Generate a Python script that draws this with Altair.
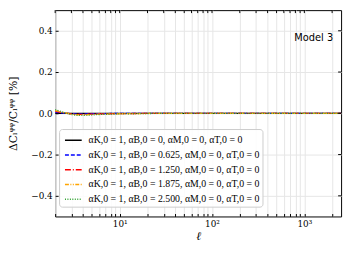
import altair as alt
import pandas as pd

ell = [2, 2.5, 3, 3.5, 4, 5, 6, 8, 10, 15, 20, 30, 50, 100, 200, 500, 1000, 2000, 2500]
dev_b0000 = [0, 0, 0, 0, 0, 0, 0, 0, 0, 0, 0, 0, 0, 0, 0, 0, 0, 0, 0]
dev_b0625 = [0.0045, 0.001, -0.0015, -0.0025, -0.0025, -0.002, -0.0015, -0.001, -0.0008, -0.0005, -0.0003, -0.0001, 0, 0, 0, 0, 0, 0, 0]
dev_b1250 = [0.009, 0.002, -0.003, -0.005, -0.005, -0.004, -0.003, -0.002, -0.0015, -0.001, -0.0005, -0.0002, 0, 0, 0, 0, 0, 0, 0]
dev_b1875 = [0.0135, 0.003, -0.0045, -0.0075, -0.0075, -0.006, -0.0045, -0.003, -0.0022, -0.0015, -0.0008, -0.0004, 0, 0, 0, 0, 0, 0, 0]
dev_b2500 = [0.018, 0.004, -0.006, -0.010, -0.010, -0.008, -0.006, -0.004, -0.003, -0.002, -0.001, -0.0005, 0, 0, 0, 0, 0, 0, 0]

labels = [
    "αK,0 = 1, αB,0 = 0, αM,0 = 0, αT,0 = 0",
    "αK,0 = 1, αB,0 = 0.625, αM,0 = 0, αT,0 = 0",
    "αK,0 = 1, αB,0 = 1.250, αM,0 = 0, αT,0 = 0",
    "αK,0 = 1, αB,0 = 1.875, αM,0 = 0, αT,0 = 0",
    "αK,0 = 1, αB,0 = 2.500, αM,0 = 0, αT,0 = 0",
]
colors = ["black", "blue", "red", "orange", "#2ca02c"]
dashes = [[1, 0], [4, 2], [6, 2, 1, 2], [4, 1.5, 1, 1.5, 1, 1.5], [1, 1.5]]
series = [dev_b0000, dev_b0625, dev_b1250, dev_b1875, dev_b2500]

xticks = [2, 3, 4, 5, 6, 7, 8, 9, 10, 20, 30, 40, 50, 60, 70, 80, 90,
          100, 200, 300, 400, 500, 600, 700, 800, 900, 1000, 2000]
yticks = [-0.4, -0.2, 0.0, 0.2, 0.4]

rows = []
for lab, ys in zip(labels, series):
    for l, v in zip(ell, ys):
        rows.append({"ell": l, "dev": v, "model": lab})
df = pd.DataFrame(rows)

serif = "DejaVu Serif"
xscale = alt.Scale(type="log", domain=[2, 2500], nice=False)
yscale = alt.Scale(domain=[-0.5, 0.5], nice=False)

xlab = "datum.value == 10 ? '10¹' : datum.value == 100 ? '10²' : datum.value == 1000 ? '10³' : ''"
ylab = "replace(format(datum.value, '.1f'), '-', '−')"

leg = dict(orient="none", legendX=4, legendY=121, title=None,
           symbolType="stroke", symbolSize=290, symbolStrokeWidth=1.5,
           symbolOffset=3, labelOffset=6,
           labelFont="Liberation Serif", labelFontSize=10, rowPadding=-1.2,
           fillColor="rgba(255,255,255,0.85)", strokeColor="#cccccc",
           padding=2, cornerRadius=3, labelLimit=400, labelColor="black")

lines = alt.Chart(df).mark_line(strokeWidth=1.3, clip=True).encode(
    x=alt.X("ell:Q", scale=xscale,
            axis=alt.Axis(values=xticks, labelExpr=xlab, title="ℓ", titleFont=serif,
                          titleFontStyle="italic", titleFontSize=12, titleFontWeight="normal",
                          titlePadding=2, labelFont=serif, labelFontSize=9, labelPadding=3,
                          tickSize=3, offset=-3, domain=False, grid=True, gridColor="#e6e6e6",
                          labelFlush=False, tickColor="black", labelColor="black",
                          titleColor="black")),
    y=alt.Y("dev:Q", scale=yscale,
            axis=alt.Axis(values=yticks, labelExpr=ylab, title="ΔCₗᵠᵠ/Cₗᵠᵠ [%]",
                          titleFont=serif, titleFontSize=11, titleFontWeight="normal",
                          titlePadding=12, labelFont=serif, labelFontSize=9, labelPadding=3,
                          tickSize=3, offset=-3, domain=False, grid=True, gridColor="#e6e6e6",
                          tickColor="black", labelColor="black", titleColor="black")),
    color=alt.Color("model:N", scale=alt.Scale(domain=labels, range=colors),
                    legend=alt.Legend(**leg)),
    strokeDash=alt.StrokeDash("model:N", scale=alt.Scale(domain=labels, range=dashes),
                              legend=alt.Legend(**leg)),
    order=alt.Order("model:N", sort="ascending"),
)

# inward ticks on the top and right edges
top_ticks = alt.Chart(pd.DataFrame({"ell": xticks})).mark_rule(color="black", strokeWidth=1).encode(
    x=alt.X("ell:Q", scale=xscale), y=alt.value(0), y2=alt.value(3))
right_ticks = alt.Chart(pd.DataFrame({"dev": yticks})).mark_rule(color="black", strokeWidth=1).encode(
    y=alt.Y("dev:Q", scale=yscale), x=alt.value(288), x2=alt.value(291))

model_lbl = pd.DataFrame({"ell": [2050], "dev": [0.367], "txt": ["Model 3"]})
text = alt.Chart(model_lbl).mark_text(align="right", baseline="middle", font="DejaVu Sans",
                                      fontSize=10, color="black").encode(
    x=alt.X("ell:Q", scale=xscale), y=alt.Y("dev:Q", scale=yscale), text="txt:N")

chart = alt.layer(lines, top_ticks, right_ticks, text).properties(
    width=291, height=210, padding={"left": 48, "top": 0, "right": 5, "bottom": 35},
    autosize=alt.AutoSizeParams(type="none"),
).configure_view(stroke="black", strokeWidth=1)

chart.save("out.html", embed_options={"renderer": "svg", "actions": False})
